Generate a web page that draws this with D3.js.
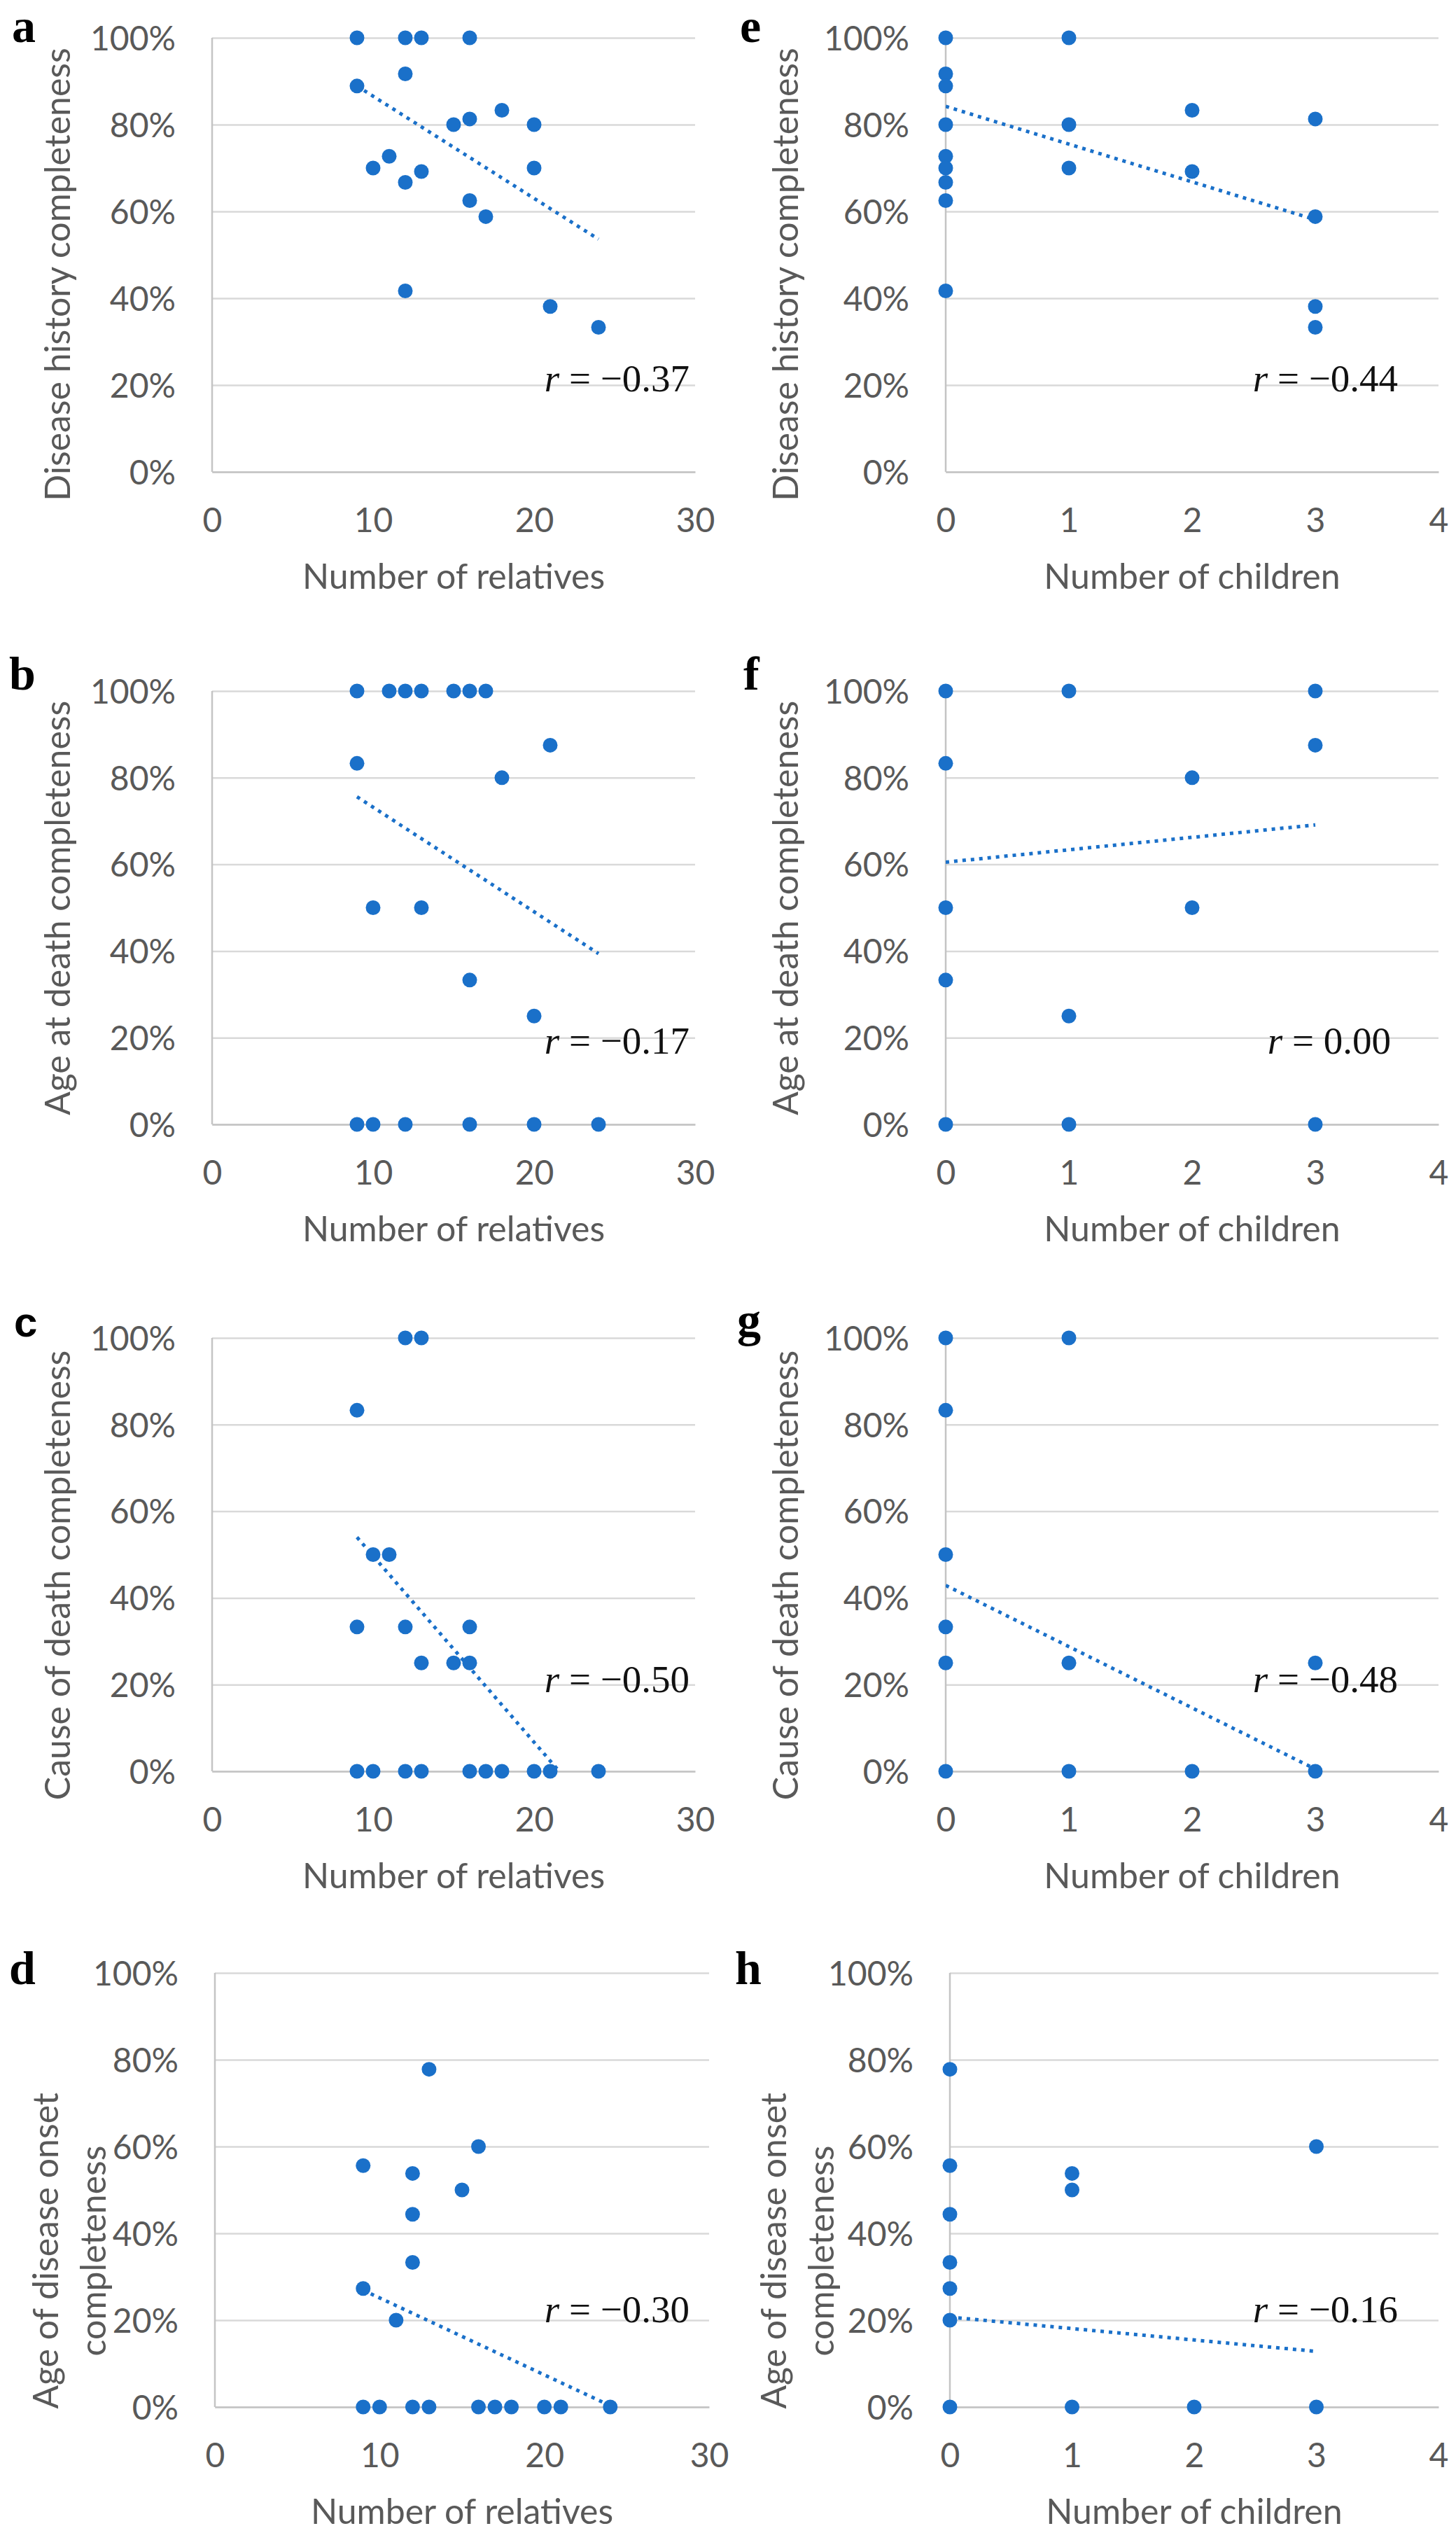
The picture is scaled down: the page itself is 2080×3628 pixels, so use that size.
<!DOCTYPE html>
<html>
<head>
<meta charset="utf-8">
<script src="https://cdn.jsdelivr.net/npm/d3@7"></script>
<style>
  body { margin: 0; background: #fff; }
</style>
</head>
<body>
<script>
// ---- data ----
const pctTicks = [0, 20, 40, 60, 80, 100]
const relativeTicks = [0, 10, 20, 30]
const childTicks = [0, 1, 2, 3, 4]

// a: disease history vs relatives
const relativesA = [9, 12, 13, 16, 12, 9, 18, 16, 15, 20, 11, 10, 13, 20, 12, 16, 17, 12, 21, 24]
const historyA = [100, 100, 100, 100, 91.7, 88.9, 83.3, 81.3, 80, 80, 72.7, 70, 69.2, 70, 66.7, 62.5, 58.8, 41.7, 38.1, 33.3]
// b: age at death vs relatives
const relativesB = [9, 11, 12, 13, 15, 16, 17, 9, 21, 18, 10, 13, 16, 20, 9, 10, 12, 16, 20, 24]
const ageDeathB = [100, 100, 100, 100, 100, 100, 100, 83.3, 87.5, 80, 50, 50, 33.3, 25, 0, 0, 0, 0, 0, 0]
// c: cause of death vs relatives
const relativesC = [12, 13, 9, 10, 11, 9, 12, 16, 13, 15, 16, 9, 10, 12, 13, 16, 17, 18, 20, 21, 24]
const causeC = [100, 100, 83.3, 50, 50, 33.3, 33.3, 33.3, 25, 25, 25, 0, 0, 0, 0, 0, 0, 0, 0, 0, 0]
// d: age of disease onset vs relatives
const relativesD = [13, 16, 9, 12, 15, 12, 12, 9, 11, 9, 10, 12, 13, 16, 17, 18, 20, 21, 24]
const onsetD = [77.8, 60, 55.6, 53.8, 50, 44.4, 33.3, 27.3, 20, 0, 0, 0, 0, 0, 0, 0, 0, 0, 0]
// e: disease history vs children
const childrenE = [0, 1, 0, 0, 2, 3, 0, 1, 0, 0, 1, 2, 0, 0, 3, 0, 3, 3]
const historyE = [100, 100, 91.7, 88.9, 83.3, 81.3, 80, 80, 72.7, 70, 70, 69.2, 66.7, 62.5, 58.8, 41.7, 38.1, 33.3]
// f: age at death vs children
const childrenF = [0, 1, 3, 0, 3, 2, 0, 2, 0, 1, 0, 1, 3]
const ageDeathF = [100, 100, 100, 83.3, 87.5, 80, 50, 50, 33.3, 25, 0, 0, 0]
// g: cause of death vs children
const childrenG = [0, 1, 0, 0, 0, 0, 1, 3, 0, 1, 2, 3]
const causeG = [100, 100, 83.3, 50, 33.3, 25, 25, 25, 0, 0, 0, 0]
// h: age of disease onset vs children
const childrenH = [0, 0, 0, 0, 0, 0, 1, 1, 3, 0, 1, 2, 3]
const onsetH = [77.8, 55.6, 44.4, 33.3, 27.3, 20, 53.8, 50, 60, 0, 0, 0, 0]

// dotted trend lines: value at smallest x, value at largest x
const trendA = [88.9, 53.6]
const trendB = [75.6, 39.4]
const trendC = [54.0, -10.5]
const trendD = [26.9, 0.3]
const trendE = [84.2, 58.1]
const trendF = [60.5, 69.1]
const trendG = [42.9, 0.5]
const trendH = [20.7, 12.8]

const rValues = [-0.37, -0.17, -0.50, -0.30, -0.44, 0.00, -0.48, -0.16]

// ---- layout ----
let width = 2080
let height = 3628

let blue = "#1a70c9"
let tickFont = "Lato, 'Open Sans', sans-serif"
let serif = "'Liberation Serif', 'DejaVu Serif', serif"

let rowsY = [[54, 674], [987, 1606], [1911, 2530], [2818, 3438]]
let titleMid = [392, 1297, 2250, 3215]
let leftX = [303, 993], leftXd = [307, 1013]
let rightX = [1351, 2055], rightXh = [1357, 2055]

let panels = [
    {id: "a", row: 0, xr: leftX, xs: relativesA, ys: historyA, trend: trendA, r: rValues[0], xDomain: [0, 30], ticks: relativeTicks,
        xTitle: "Number of relatives", yTitle: ["Disease history completeness"], letterX: 17, letterFont: serif, rRight: 985, rAt: 18.5},
    {id: "b", row: 1, xr: leftX, xs: relativesB, ys: ageDeathB, trend: trendB, r: rValues[1], xDomain: [0, 30], ticks: relativeTicks,
        xTitle: "Number of relatives", yTitle: ["Age at death completeness"], letterX: 13, letterFont: serif, rRight: 985, rAt: 16.3},
    {id: "c", row: 2, xr: leftX, xs: relativesC, ys: causeC, trend: trendC, r: rValues[2], xDomain: [0, 30], ticks: relativeTicks,
        xTitle: "Number of relatives", yTitle: ["Cause of death completeness"], letterX: 20, letterFont: "'Liberation Sans', sans-serif", rRight: 985, rAt: 18.2},
    {id: "d", row: 3, xr: leftXd, xs: relativesD, ys: onsetD, trend: trendD, r: rValues[3], xDomain: [0, 30], ticks: relativeTicks,
        xTitle: "Number of relatives", yTitle: ["Age of disease onset", "completeness"], letterX: 13, letterFont: serif, rRight: 985, rAt: 19.5},
    {id: "e", row: 0, xr: rightX, xs: childrenE, ys: historyE, trend: trendE, r: rValues[4], xDomain: [0, 4], ticks: childTicks,
        xTitle: "Number of children", yTitle: ["Disease history completeness"], letterX: 1057, letterFont: serif, rRight: 1997, rAt: 18.5},
    {id: "f", row: 1, xr: rightX, xs: childrenF, ys: ageDeathF, trend: trendF, r: rValues[5], xDomain: [0, 4], ticks: childTicks,
        xTitle: "Number of children", yTitle: ["Age at death completeness"], letterX: 1062, letterFont: serif, rRight: 1987, rAt: 16.3},
    {id: "g", row: 2, xr: rightX, xs: childrenG, ys: causeG, trend: trendG, r: rValues[6], xDomain: [0, 4], ticks: childTicks,
        xTitle: "Number of children", yTitle: ["Cause of death completeness"], letterX: 1053, letterFont: serif, rRight: 1997, rAt: 18.2},
    {id: "h", row: 3, xr: rightXh, xs: childrenH, ys: onsetH, trend: trendH, r: rValues[7], xDomain: [0, 4], ticks: childTicks,
        xTitle: "Number of children", yTitle: ["Age of disease onset", "completeness"], letterX: 1050, letterFont: serif, rRight: 1997, rAt: 19.5}
]

let svg = d3.select("body")
    .append("svg")
    .attr("width", width)
    .attr("height", height)

function fmtR(v) {
    if (v === 0) return " = 0.00"
    return " = " + (v < 0 ? "\u2212" : "") + Math.abs(v).toFixed(2)
}

panels.forEach(function (p) {
    let top = rowsY[p.row][0], bottom = rowsY[p.row][1]
    let left = p.xr[0], right = p.xr[1]
    let colLeft = left < 1040 ? 0 : 1040

    let x = d3.scaleLinear().domain(p.xDomain).range([left, right])
    let y = d3.scaleLinear().domain([0, 100]).range([bottom, top])

    let g = svg.append("g").attr("class", "panel-" + p.id)

    // gridlines + percent labels
    g.append("g")
        .attr("transform", "translate(" + left + ",0)")
        .call(d3.axisLeft(y).tickValues(pctTicks).tickFormat(d => d + "%")
            .tickSize(-(right - left)).tickPadding(52))
        .call(a => a.select(".domain").remove())
        .call(a => a.selectAll("line").attr("stroke", "#d9d9d9").attr("stroke-width", 2.5))
        .call(a => a.selectAll("text")
            .attr("fill", "#595959")
            .attr("dy", "0.36em")
            .style("font-family", tickFont)
            .style("font-size", "48px"))

    // vertical axis line
    g.append("line")
        .attr("x1", left).attr("x2", left)
        .attr("y1", top).attr("y2", bottom)
        .attr("stroke", "#c4c4c4")
        .attr("stroke-width", 2.5)

    // x axis labels
    g.append("g")
        .attr("transform", "translate(0," + bottom + ")")
        .call(d3.axisBottom(x).tickValues(p.ticks).tickFormat(d3.format("d")).tickSize(0))
        .call(a => a.select(".domain").attr("stroke", "#c4c4c4").attr("stroke-width", 2.5))
        .call(a => a.selectAll("text")
            .attr("y", 86)
            .attr("dy", 0)
            .attr("fill", "#595959")
            .style("font-family", tickFont)
            .style("font-size", "48px"))

    // trend line, clipped to plot area
    let clipId = "clip-" + p.id
    g.append("clipPath").attr("id", clipId)
        .append("rect")
        .attr("x", left).attr("y", top)
        .attr("width", right - left).attr("height", bottom - top)

    let ext = d3.extent(p.xs)
    let trendPts = [[ext[0], p.trend[0]], [ext[1], p.trend[1]]]
    g.append("path")
        .datum(trendPts)
        .attr("clip-path", "url(#" + clipId + ")")
        .attr("d", d3.line().x(d => x(d[0])).y(d => y(d[1])))
        .attr("stroke", blue)
        .attr("stroke-width", 5)
        .attr("stroke-dasharray", "5 7")
        .attr("fill", "none")

    // points
    g.append("g")
        .selectAll("circle")
        .data(d3.zip(p.xs, p.ys))
        .enter()
        .append("circle")
        .attr("cx", d => x(d[0]))
        .attr("cy", d => y(d[1]))
        .attr("r", 10.5)
        .attr("fill", blue)

    // r annotation
    let rt = g.append("text")
        .attr("x", p.rRight)
        .attr("y", y(p.rAt))
        .attr("text-anchor", "end")
        .attr("fill", "#111")
        .style("font-family", serif)
        .style("font-size", "55px")
    rt.append("tspan").attr("font-style", "italic").text("r")
    rt.append("tspan").text(fmtR(p.r))

    // x title
    g.append("text")
        .attr("x", (left + right) / 2)
        .attr("y", bottom + 167)
        .attr("text-anchor", "middle")
        .attr("fill", "#595959")
        .style("font-family", tickFont)
        .style("font-size", "50px")
        .text(p.xTitle)

    // y title (one or two lines)
    let baseX = p.yTitle.length === 1 ? [100] : [83, 151]
    p.yTitle.forEach(function (line, i) {
        let tx = colLeft + baseX[i]
        g.append("text")
            .attr("transform", "translate(" + tx + "," + titleMid[p.row] + ") rotate(-90)")
            .attr("text-anchor", "middle")
            .attr("fill", "#595959")
            .style("font-family", tickFont)
            .style("font-size", "50px")
            .text(line)
    })

    // panel letter
    g.append("text")
        .attr("x", p.letterX)
        .attr("y", top + (p.row === 0 ? 6 : (p.row === 3 ? 16 : -2)))
        .attr("fill", "#000")
        .style("font-family", p.letterFont)
        .style("font-weight", "bold")
        .style("font-size", p.id === "c" ? "60px" : "68px")
        .text(p.id)
})
</script>
</body>
</html>
